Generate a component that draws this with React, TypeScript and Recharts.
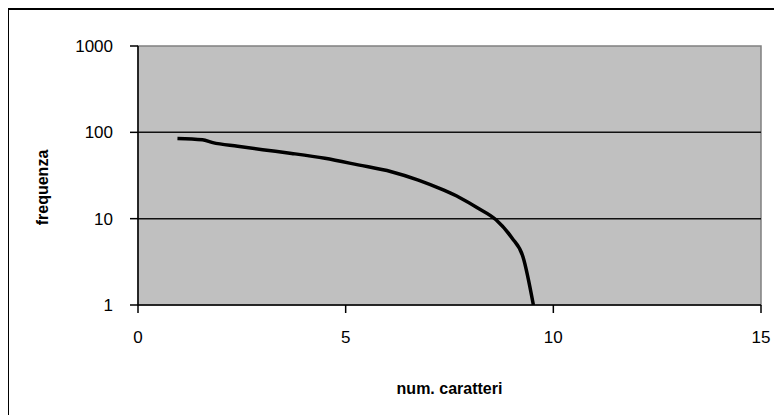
import React from 'react';
import { LineChart, Line, XAxis, YAxis, ReferenceArea, ReferenceLine, Label } from 'recharts';

const xValues = [0.95, 1.55, 1.8, 2.4, 3, 3.7, 4.5, 5.3, 6.1, 6.75, 7.35, 7.75, 8.18, 8.62, 9.0, 9.27, 9.52];
const frequenza = [85, 82, 76, 69, 63, 57, 50, 42, 35, 28, 21.5, 17.5, 13.3, 9.7, 6, 3.6, 1];
const xTicks = [0, 5, 10, 15];
const yTicks = [1, 10, 100, 1000];
const gridValues = [10, 100];

const data = xValues.map((x, i) => ({ x, y: frequenza[i] }));

const FONT = "'Liberation Sans', Arial, Helvetica, sans-serif";

const YTitle = (props: any) => {
  const vb = props.viewBox || {};
  const cx = vb.x - 36;
  const cy = vb.y + vb.height / 2 + 12;
  return (
    <text
      x={cx}
      y={cy}
      transform={`rotate(-90, ${cx}, ${cy})`}
      textAnchor="middle"
      dominantBaseline="central"
      fontFamily={FONT}
      fontWeight="bold"
      fontSize={16}
      fill="#000"
    >
      frequenza
    </text>
  );
};

const XTitle = (props: any) => {
  const vb = props.viewBox || {};
  const cx = vb.x + vb.width / 2;
  const cy = vb.y + 83;
  return (
    <text
      x={cx}
      y={cy}
      textAnchor="middle"
      dominantBaseline="central"
      fontFamily={FONT}
      fontWeight="bold"
      fontSize={16}
      fill="#000"
    >
      num. caratteri
    </text>
  );
};

export default function App() {
  return (
    <div style={{ position: 'relative', width: 774, height: 407, overflow: 'hidden', background: '#fff' }}>
      <div
        style={{
          position: 'absolute',
          left: -1,
          top: 0,
          width: 800,
          height: 420,
          borderLeft: '2px solid #000',
          borderTop: '2px solid #000',
          boxSizing: 'border-box',
        }}
      />
      <div style={{ position: 'absolute', left: 0, top: 0 }}>
        <LineChart
          width={774}
          height={407}
          data={data}
          margin={{ top: 38, right: 21, bottom: 80, left: 70 }}
        >
          <ReferenceArea
            x1={0}
            x2={15}
            y1={1}
            y2={1000}
            fill="#c0c0c0"
            fillOpacity={1}
            stroke="#808080"
            strokeWidth={1.5}
          />
          {gridValues.map((v) => (
            <ReferenceLine key={v} y={v} stroke="#111" strokeWidth={1.5} />
          ))}
          <XAxis
            dataKey="x"
            type="number"
            domain={[0, 15]}
            ticks={xTicks}
            interval={0}
            height={30}
            tickSize={8}
            tickMargin={18}
            axisLine={{ stroke: '#000', strokeWidth: 1.5 }}
            tickLine={{ stroke: '#000', strokeWidth: 1.5 }}
            tick={{ fill: '#000', fontSize: 17, fontFamily: FONT }}
          >
            <Label content={<XTitle />} />
          </XAxis>
          <YAxis
            dataKey="y"
            type="number"
            scale="log"
            domain={[1, 1000]}
            ticks={yTicks}
            interval={0}
            allowDataOverflow
            width={60}
            tickSize={8}
            tickMargin={17}
            axisLine={{ stroke: '#000', strokeWidth: 1.5 }}
            tickLine={{ stroke: '#000', strokeWidth: 1.5 }}
            tick={{ fill: '#000', fontSize: 17, fontFamily: FONT }}
          >
            <Label content={<YTitle />} />
          </YAxis>
          <Line
            type="monotone"
            dataKey="y"
            stroke="#000"
            strokeWidth={3.5}
            dot={false}
            isAnimationActive={false}
          />
        </LineChart>
      </div>
    </div>
  );
}
